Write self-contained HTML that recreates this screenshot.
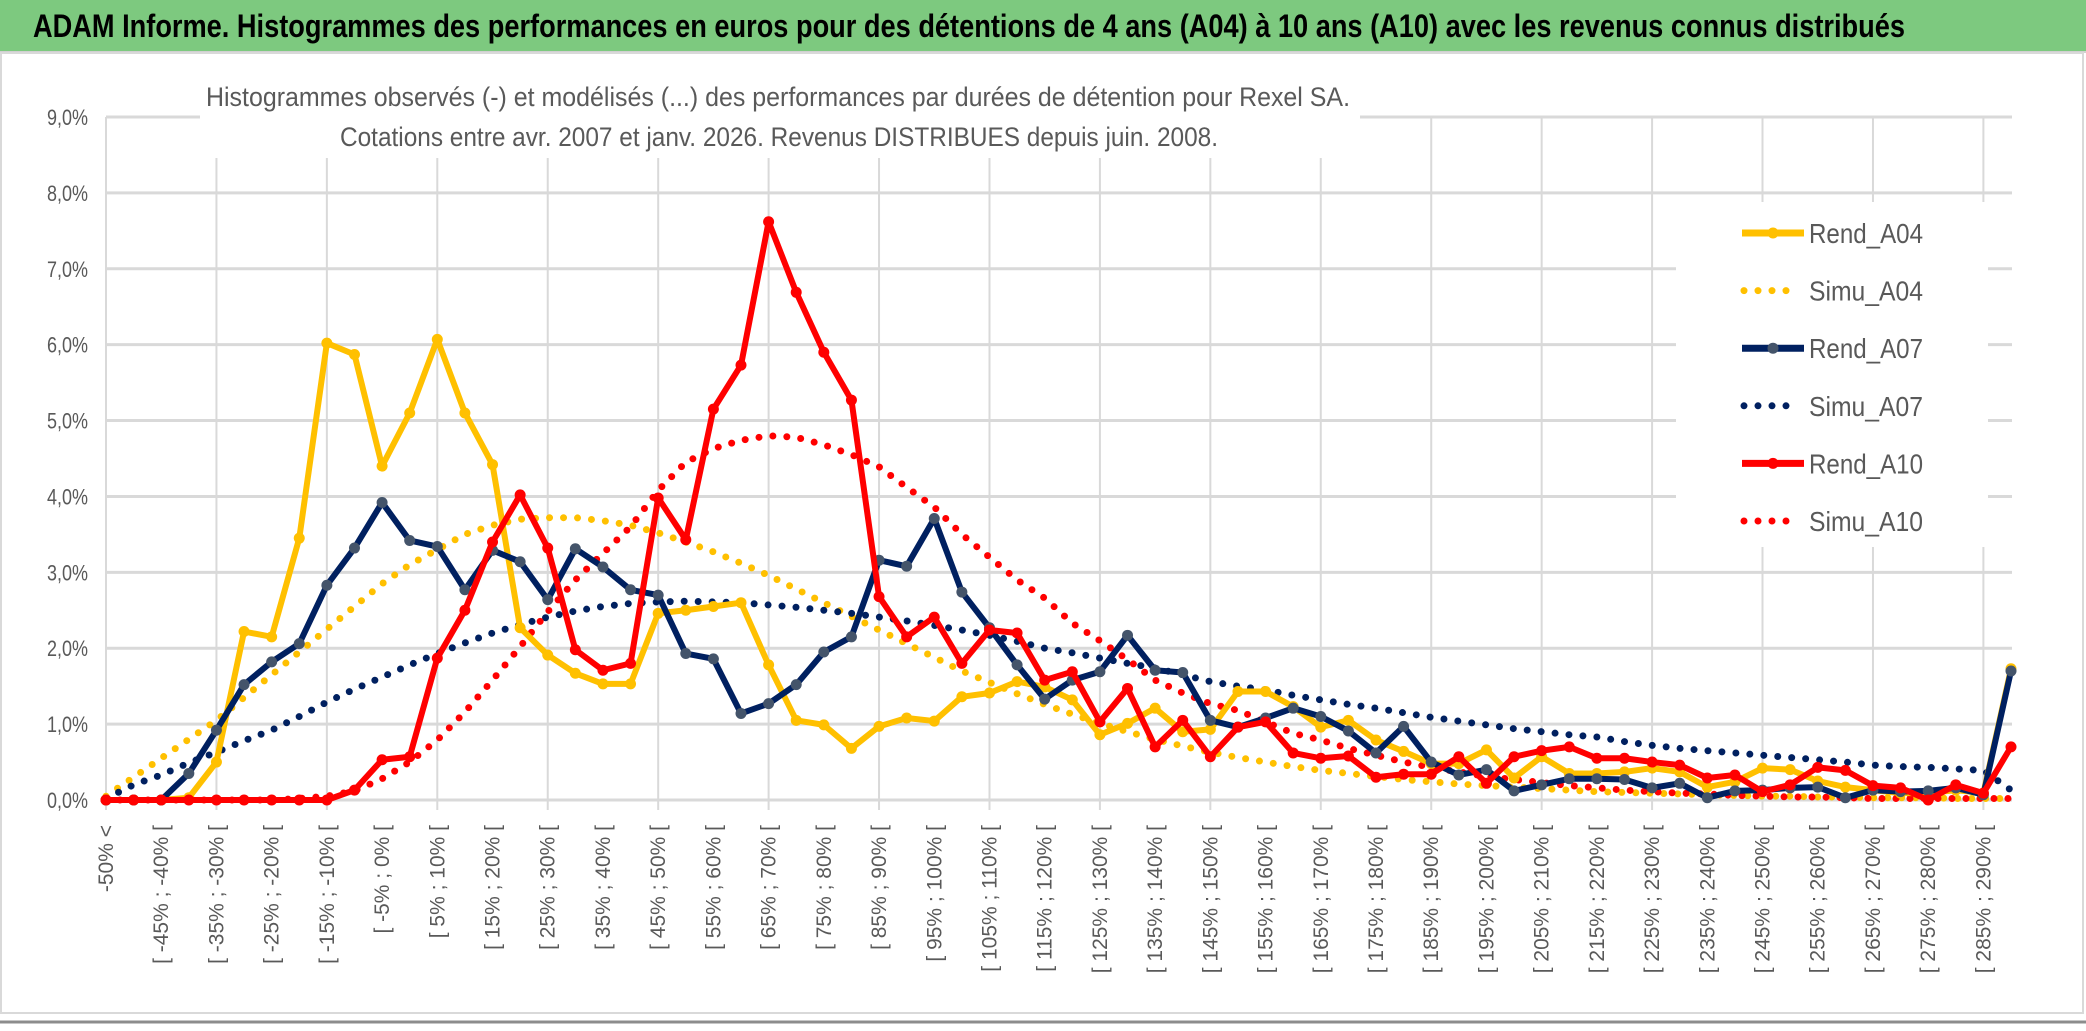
<!DOCTYPE html>
<html><head><meta charset="utf-8"><style>
html,body{margin:0;padding:0;background:#fff;}
svg{display:block;}
text{font-family:"Liberation Sans Narrow","Liberation Sans",sans-serif;}
</style></head><body>
<svg id="chart" width="2086" height="1031" viewBox="0 0 2086 1031" xmlns="http://www.w3.org/2000/svg">
<rect x="0" y="0" width="2086" height="1031" fill="#ffffff"/>
<rect x="0" y="0" width="2086" height="51" fill="#7DC97F"/>
<line x1="0" y1="52" x2="2086" y2="52" stroke="#d0d0d0" stroke-width="2"/>
<text x="33" y="37" font-size="32" font-weight="bold" fill="#000" textLength="1872" lengthAdjust="spacingAndGlyphs">ADAM Informe. Histogrammes des performances en euros pour des détentions de 4 ans (A04) à 10 ans (A10) avec les revenus connus distribués</text>
<rect x="1" y="53" width="2082" height="960" fill="none" stroke="#d9d9d9" stroke-width="2"/>
<line x1="0" y1="1022" x2="2086" y2="1022" stroke="#8c8c8c" stroke-width="3"/>
<g id="grid"></g>
<g id="xlabels"></g>
<g id="ylabels"></g>
<g id="series"></g>
<rect x="200" y="62" width="1160" height="96" fill="#fff"/>
<text x="206" y="106" font-size="27" fill="#595959" textLength="1144" lengthAdjust="spacingAndGlyphs">Histogrammes observés (-) et modélisés (...) des performances par durées de détention pour Rexel SA.</text>
<text x="340" y="146" font-size="27" fill="#595959" textLength="878" lengthAdjust="spacingAndGlyphs">Cotations entre avr. 2007 et janv. 2026. Revenus DISTRIBUES depuis juin. 2008.</text>
<rect x="1676" y="202" width="312" height="345" fill="#fff"/>
<g id="legend"></g>
</svg>
<script>
const yTicks = ["0,0%","1,0%","2,0%","3,0%","4,0%","5,0%","6,0%","7,0%","8,0%","9,0%"];
const categories = ["-50% <"];
for (let k = 1; k < 70; k++) { const lo = -50 + 5*(k-1); categories.push("[ " + lo + "% ; " + (lo+5) + "% ["); }
const rendA04 = [0,0,0,0.03,0.5,2.22,2.15,3.45,6.02,5.87,4.4,5.1,6.07,5.1,4.42,2.27,1.91,1.67,1.53,1.53,2.46,2.5,2.55,2.6,1.78,1.05,0.99,0.68,0.97,1.08,1.04,1.36,1.41,1.56,1.49,1.32,0.86,1.01,1.21,0.9,0.93,1.43,1.43,1.23,0.96,1.05,0.79,0.64,0.48,0.48,0.66,0.29,0.57,0.35,0.35,0.37,0.42,0.37,0.17,0.24,0.42,0.4,0.25,0.17,0.13,0.09,0.09,0.13,0.09,1.73];
const simuA04 = [0.05,0.3,0.55,0.8,1.05,1.35,1.65,1.95,2.25,2.55,2.85,3.1,3.3,3.5,3.62,3.7,3.72,3.72,3.68,3.62,3.52,3.4,3.27,3.12,2.96,2.78,2.6,2.42,2.24,2.06,1.88,1.7,1.55,1.4,1.26,1.13,1.01,0.9,0.8,0.71,0.63,0.56,0.5,0.44,0.39,0.35,0.31,0.27,0.24,0.21,0.19,0.17,0.15,0.13,0.11,0.1,0.09,0.08,0.07,0.06,0.05,0.05,0.04,0.04,0.03,0.03,0.03,0.02,0.02,0.02];
const rendA07 = [0,0,0,0.35,0.92,1.52,1.82,2.06,2.83,3.32,3.92,3.42,3.34,2.77,3.29,3.14,2.64,3.31,3.07,2.77,2.7,1.93,1.86,1.14,1.27,1.52,1.95,2.15,3.16,3.08,3.71,2.74,2.27,1.78,1.33,1.58,1.69,2.17,1.71,1.68,1.05,0.96,1.08,1.21,1.1,0.91,0.62,0.97,0.5,0.33,0.4,0.12,0.2,0.28,0.28,0.27,0.16,0.22,0.03,0.12,0.13,0.16,0.17,0.03,0.13,0.11,0.12,0.16,0.07,1.7];
const simuA07 = [0.02,0.2,0.33,0.49,0.63,0.78,0.92,1.1,1.29,1.46,1.62,1.78,1.93,2.07,2.2,2.31,2.41,2.49,2.55,2.59,2.61,2.62,2.61,2.6,2.57,2.54,2.5,2.46,2.41,2.36,2.3,2.24,2.17,2.09,2.0,1.94,1.87,1.8,1.74,1.65,1.56,1.5,1.45,1.38,1.32,1.26,1.21,1.15,1.09,1.04,0.99,0.94,0.9,0.86,0.83,0.77,0.72,0.68,0.65,0.62,0.59,0.56,0.53,0.5,0.46,0.44,0.43,0.41,0.39,0.13];
const rendA10 = [0,0,0,0,0,0,0,0,0,0.13,0.53,0.57,1.87,2.5,3.4,4.02,3.32,1.98,1.71,1.8,3.98,3.43,5.15,5.73,7.62,6.69,5.9,5.27,2.68,2.15,2.41,1.8,2.24,2.2,1.58,1.69,1.03,1.47,0.7,1.05,0.57,0.96,1.03,0.62,0.55,0.58,0.3,0.34,0.34,0.57,0.22,0.57,0.65,0.7,0.55,0.55,0.5,0.46,0.29,0.33,0.11,0.2,0.43,0.39,0.19,0.16,0.0,0.2,0.09,0.7];
const simuA10 = [0,0,0,0,0,0,0,0.02,0.05,0.12,0.28,0.5,0.79,1.16,1.58,2.02,2.48,2.9,3.25,3.6,4.08,4.45,4.63,4.74,4.8,4.78,4.68,4.55,4.39,4.12,3.86,3.5,3.2,2.9,2.66,2.33,2.1,1.85,1.58,1.41,1.27,1.18,1.03,0.88,0.79,0.68,0.59,0.5,0.43,0.37,0.31,0.27,0.23,0.19,0.16,0.13,0.11,0.09,0.08,0.06,0.05,0.04,0.04,0.03,0.02,0.02,0.02,0.02,0.02,0.02];

const NS = "http://www.w3.org/2000/svg";
const X0 = 106, X1 = 2011, Y0 = 800, YTOP = 117, YMAX = 9;
const xs = k => X0 + k * (X1 - X0) / (categories.length - 1);
const ys = v => Y0 - v * (Y0 - YTOP) / YMAX;
function mk(tag, attrs, parent){ const e = document.createElementNS(NS, tag); for (const a in attrs) e.setAttribute(a, attrs[a]); parent.appendChild(e); return e; }

const grid = document.getElementById("grid");
yTicks.forEach((t, i) => {
  const g = mk("line", {x1: X0, x2: 2012, y1: ys(i), y2: ys(i), stroke: "#d9d9d9", "stroke-width": 3}, grid);
  
  
});
for (let k = 0; k < categories.length; k += 4) {
  const v = mk("line", {x1: xs(k), x2: xs(k), y1: YTOP, y2: Y0 + 10, stroke: "#d9d9d9", "stroke-width": 2}, grid);
  
  
}
const yl = document.getElementById("ylabels");
yTicks.forEach((t, i) => {
  const e = mk("text", {x: 88, y: ys(i) + 8, "text-anchor": "end", "font-size": 22, fill: "#595959", textLength: 41, lengthAdjust: "spacingAndGlyphs"}, yl);
  e.textContent = t;
  
  
});
const xl = document.getElementById("xlabels");
for (let k = 0; k < categories.length; k += 2) {
  const x = xs(k), y = 825;
  const e = mk("text", {x: x, y: y, "text-anchor": "end", "font-size": 21, fill: "#595959", transform: "rotate(-90 " + x + " " + y + ")", dy: "7", style: "font-family:'Liberation Sans',sans-serif"}, xl);
  e.textContent = categories[k];
  
  
}
const ser = document.getElementById("series");
function pts(arr){ return arr.map((v, k) => xs(k) + "," + ys(v)).join(" "); }
function dotted(arr, color, name){
  const p = mk("polyline", {points: pts(arr), fill: "none", stroke: color, "stroke-width": 7, "stroke-linecap": "round", "stroke-dasharray": "0 14"}, ser);
  
  
}
function solid(arr, color, mcolor, name){
  const p = mk("polyline", {points: pts(arr), fill: "none", stroke: color, "stroke-width": 6, "stroke-linejoin": "round"}, ser);
  
  
  arr.forEach((v, k) => {
    const c = mk("circle", {cx: xs(k), cy: ys(v), r: 5.5, fill: mcolor}, ser);
    
    
  });
}
dotted(simuA04, "#FFC000", "simu-a04-line");
dotted(simuA07, "#002060", "simu-a07-line");
dotted(simuA10, "#FF0000", "simu-a10-line");
solid(rendA04, "#FFC000", "#FFC000", "rend-a04-line");
solid(rendA07, "#002060", "#44546A", "rend-a07-line");
solid(rendA10, "#FF0000", "#FF0000", "rend-a10-line");

const legendNames = ["Rend_A04","Simu_A04","Rend_A07","Simu_A07","Rend_A10","Simu_A10"];
const legendColors = ["#FFC000","#FFC000","#002060","#002060","#FF0000","#FF0000"];
const lg = document.getElementById("legend");
legendNames.forEach((n, i) => {
  const y = 233 + i * 57.6;
  const c = legendColors[i];
  if (i % 2 === 0) {
    const l = mk("line", {x1: 1742, x2: 1804, y1: y, y2: y, stroke: c, "stroke-width": 7}, lg);
    
    
    const m = mk("circle", {cx: 1773, cy: y, r: 5.5, fill: i === 2 ? "#44546A" : c}, lg);
    
    
  } else {
    const l = mk("line", {x1: 1744, x2: 1800, y1: y, y2: y, stroke: c, "stroke-width": 7, "stroke-linecap": "round", "stroke-dasharray": "0 14"}, lg);
    
    
  }
  const t = mk("text", {x: 1809, y: y + 10, "font-size": 28, fill: "#595959", textLength: 114, lengthAdjust: "spacingAndGlyphs"}, lg);
  t.textContent = n;
  
  
});
</script>
</body></html>
